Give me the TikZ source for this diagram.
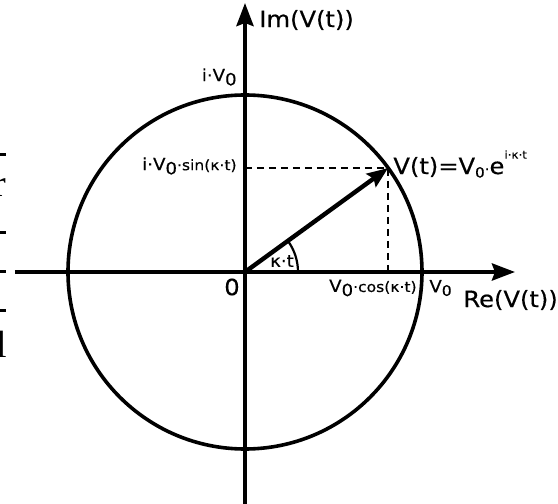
\documentclass[tikz,border=0pt]{standalone}
\usepackage{fontspec}
\setmainfont[FakeStretch=1.08, FakeBold=0.4]{DejaVu Sans}
\newfontfamily\pagefont{Liberation Serif}
\usetikzlibrary{arrows.meta}
\definecolor{Ink}{HTML}{000000}
\newcommand{\lowzero}{\raisebox{-0.45ex}{0}}
\tikzset{
  axis/.style={line width=2pt, draw=Ink, -{Stealth[length=11.5pt, width=8.5pt, inset=1.5pt]}},
  phasor/.style={line width=2.2pt, draw=Ink, -{Stealth[length=10.5pt, width=8pt, inset=1.5pt]}},
  guide/.style={line width=1pt, draw=Ink, dash pattern=on 3.5pt off 2.5pt},
  biglabel/.style={font=\fontsize{11.2}{13}\selectfont, text=Ink, inner sep=0pt},
  smalllabel/.style={font=\fontsize{8.4}{10}\selectfont, text=Ink, inner sep=0pt}
}

\begin{document}
\begin{tikzpicture}[x=0.5pt, y=0.5pt]
  \useasboundingbox (-245,-232) rectangle (313,272);
  % page fragments on the left edge
  \foreach \yy in {117, 39, 0, -38}
    \draw[line width=1.5pt] (-247,\yy) -- (-239,\yy);
  \node[font=\pagefont\fontsize{19}{20}\selectfont, anchor=east, inner sep=0pt] (fragr) at (-238,84) {r};
  \node[font=\pagefont\fontsize{19}{20}\selectfont, anchor=east, inner sep=0pt] (fragl) at (-238,-72) {l};
  % Axes
  \coordinate (O) at (0,0);
  \coordinate (west) at (-230,0);
  \coordinate (east) at (270,0);
  \coordinate (south) at (0,-236);
  \coordinate (north) at (0,269);
  \draw[axis] (west) -- (east);
  \draw[axis] (south) -- (north);
  % Unit circle
  \draw[line width=1.8pt, draw=Ink] (O) circle[radius=177];
  % Phasor and projections
  \coordinate (P) at (36:177);
  \coordinate (Px) at (P |- O);
  \coordinate (Py) at (P -| O);
  \draw[guide] (Py) -- (P) -- (Px);
  \draw[phasor] (O) -- (P);
  \draw[line width=1.1pt, draw=Ink] (53,0) arc[start angle=0, end angle=36, radius=53];
  % Labels
  \node[biglabel, anchor=west] (imlabel) at (14,252) {Im(V(t))};
  \node[smalllabel, anchor=east] (toplabel) at (-8,195) {i·V\lowzero};
  \node[smalllabel, anchor=east] (sinlabel) at (-8,106)
    {i·V\lowzero{\fontsize{7.2}{8}\selectfont ·sin(κ·t)}};
  \node[biglabel, anchor=west] (vlabel) at (148,108)
    {V(t)=V{\fontsize{7}{8}\selectfont\lowzero·}e\raisebox{1.25ex}{\fontsize{5.5}{6}\selectfont i·κ·t}};
  \node[biglabel] (zerolabel) at (-13,-15) {0};
  \node[font=\fontsize{8.4}{9}\selectfont, text=Ink, inner sep=0pt] (anglabel) at (37,11) {κ·t};
  \node[smalllabel, anchor=east] (coslabel) at (172,-16)
    {V\lowzero{\fontsize{7.2}{8}\selectfont ·cos(κ·t)}};
  \node[smalllabel, anchor=west] (rlabel) at (184,-16) {V{\fontsize{7.2}{8}\selectfont\lowzero}};
  \node[biglabel, anchor=west] (relabel) at (218,-28) {Re(V(t))};
\end{tikzpicture}
\end{document}
